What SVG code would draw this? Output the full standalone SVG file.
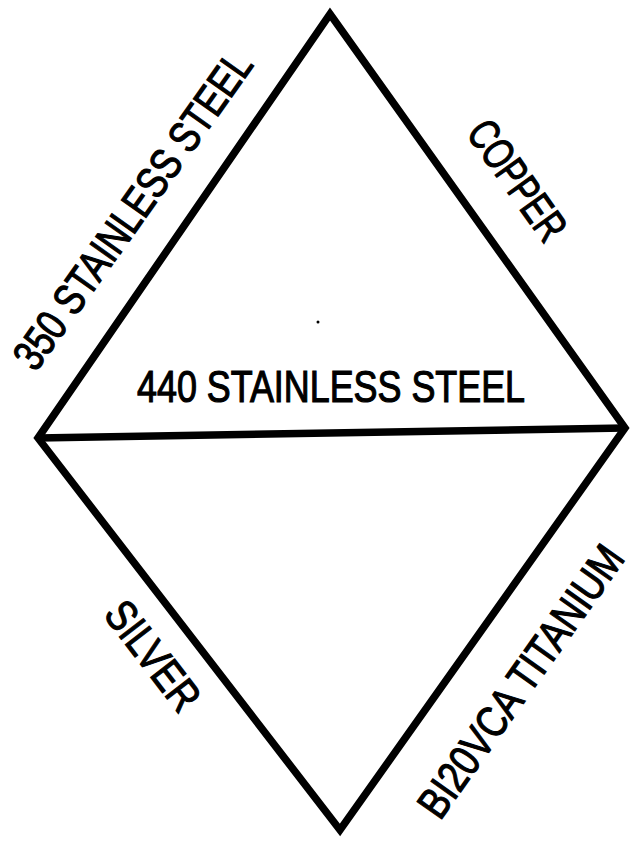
<svg xmlns="http://www.w3.org/2000/svg" width="631" height="841" viewBox="0 0 631 841">
<style>
.edge{fill:none;stroke:#000;stroke-width:7.5;stroke-linejoin:miter;stroke-linecap:butt}
.lbl{font-family:"Liberation Sans",Arial,sans-serif;font-size:44px;fill:#000;stroke:#000;stroke-width:1.2}
</style>
<rect width="631" height="841" fill="#fff"/>
<g id="connectors">
<path class="edge" d="M330,14 L625,428 L340,830 L38,438 Z"/>
<path class="edge" d="M38,438 L625,428"/>
</g>
<g id="node-350"><text class="lbl" text-anchor="middle" textLength="378" lengthAdjust="spacingAndGlyphs" transform="translate(145,219) rotate(-54.6)">350 STAINLESS STEEL</text></g>
<g id="node-copper"><text class="lbl" text-anchor="middle" textLength="137" lengthAdjust="spacingAndGlyphs" transform="translate(505,189) rotate(54.5)">COPPER</text></g>
<g id="node-440"><text class="lbl" x="137" y="402" textLength="388" lengthAdjust="spacingAndGlyphs">440 STAINLESS STEEL</text></g>
<g id="node-silver"><text class="lbl" text-anchor="middle" textLength="126" lengthAdjust="spacingAndGlyphs" transform="translate(141,665) rotate(52.4)">SILVER</text></g>
<g id="node-titanium"><text class="lbl" text-anchor="middle" textLength="322" lengthAdjust="spacingAndGlyphs" transform="translate(533,690) rotate(-54.7)">BI20VCA TITANIUM</text></g>
<circle cx="318" cy="322" r="1.5" fill="#000"/>
</svg>
